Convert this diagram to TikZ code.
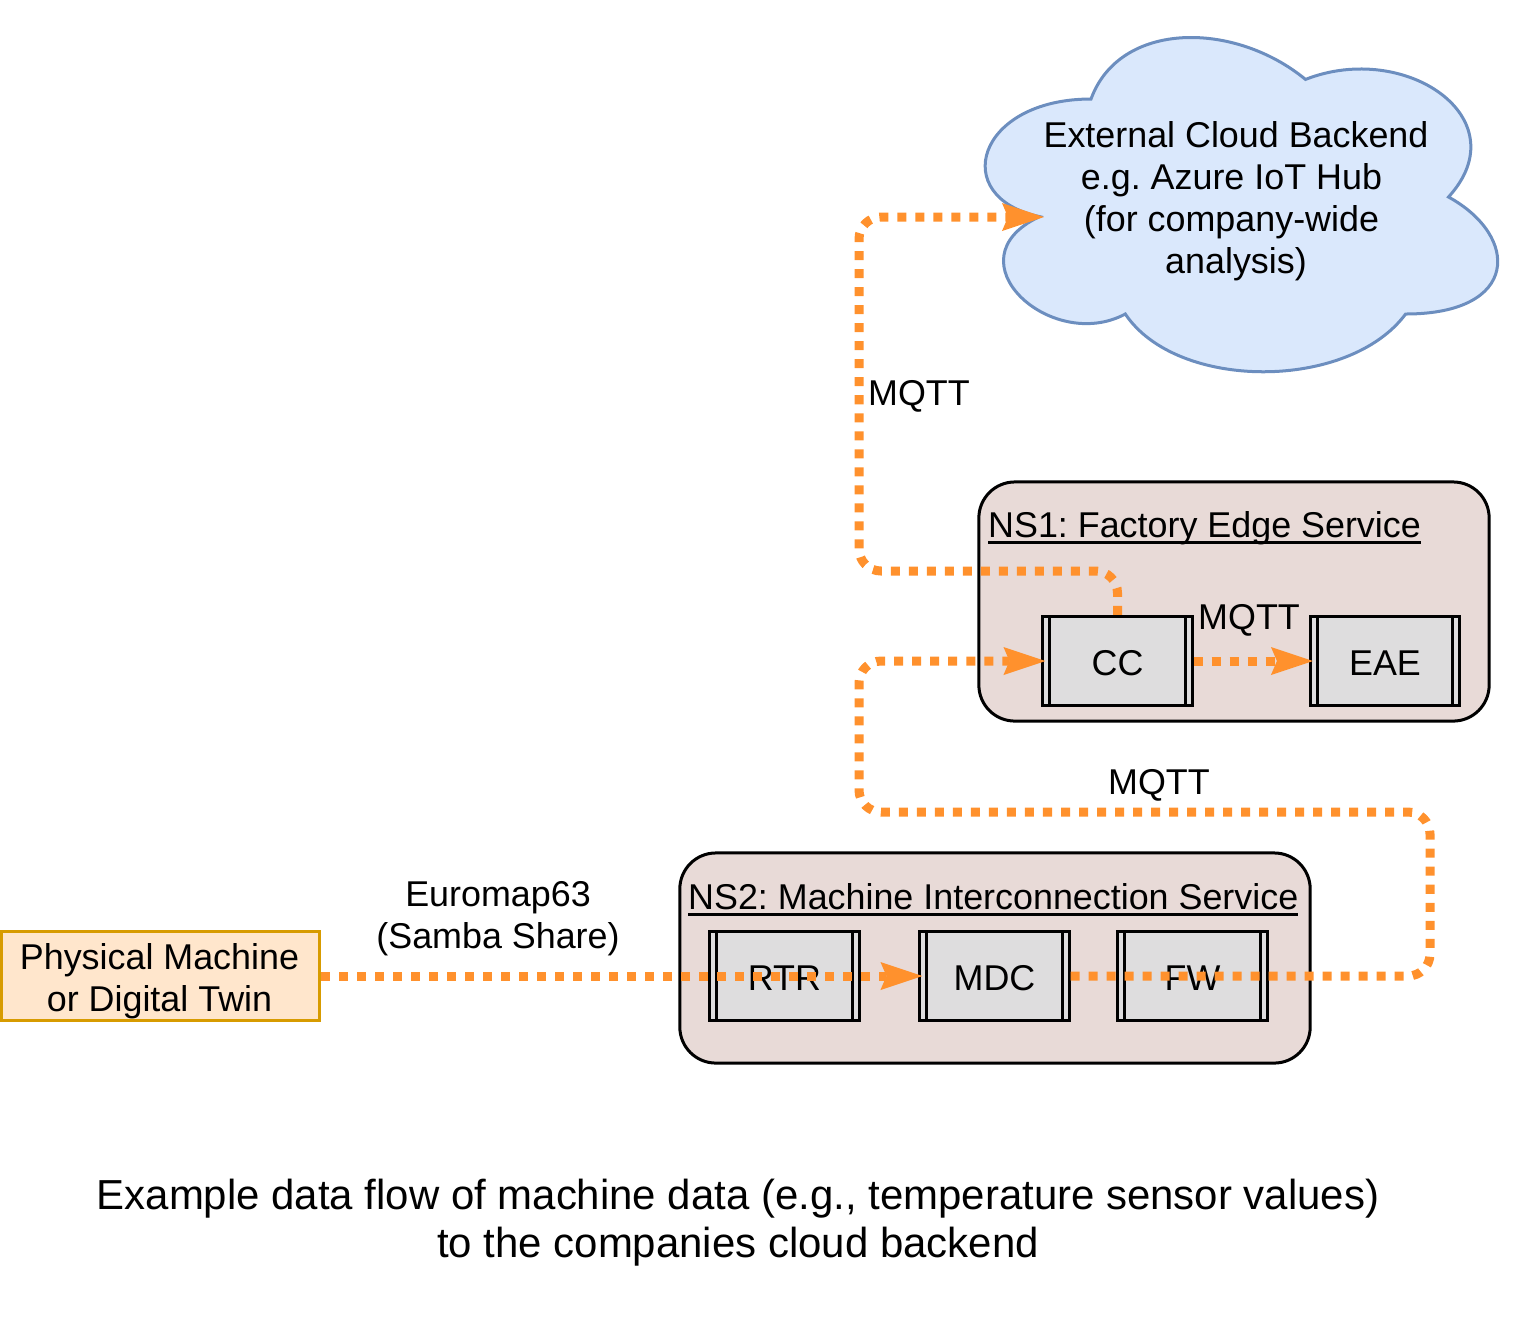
\documentclass[tikz,border=0pt]{standalone}
\usepackage{fontspec}
\setmainfont{Liberation Sans}
\usetikzlibrary{arrows.meta}
\definecolor{flowcolor}{HTML}{FF912D}
\definecolor{nsfill}{HTML}{E8DAD7}
\definecolor{svcfill}{HTML}{DEDDDE}
\definecolor{cloudline}{HTML}{6C8EBF}
\definecolor{cloudfill}{HTML}{DAE8FC}
\definecolor{physline}{HTML}{D79B00}
\definecolor{physfill}{HTML}{FFE6CC}
\newcommand{\nsul}[1]{\leavevmode\setbox0=\hbox{#1}\rlap{\rule[-0.065cm]{\wd0}{0.03cm}}\box0}
\tikzset{
  every node/.style={font=\fontsize{10.2pt}{11.95pt}\selectfont, align=center, inner sep=0pt},
  flow/.style={draw=flowcolor, line width=0.09cm, dash pattern=on 0.09cm off 0.09cm, rounded corners=0.22cm, shorten >=-0.04cm,
    -{Stealth[length=0.42cm,width=0.28cm,inset=0.06cm,line width=0pt]}},
  nsbox/.style={draw, line width=0.03cm, fill=nsfill, rounded corners=0.36cm},
  svcbox/.style={draw, line width=0.03cm, fill=svcfill, minimum width=1.49cm, minimum height=0.89cm, text height=0.29cm, text depth=0pt,
    path picture={
      \draw[line width=0.03cm] ([xshift=0.07cm]path picture bounding box.north west) -- ([xshift=0.07cm]path picture bounding box.south west);
      \draw[line width=0.03cm] ([xshift=-0.07cm]path picture bounding box.north east) -- ([xshift=-0.07cm]path picture bounding box.south east);
    }},
  title/.style={anchor=base west}
}
\begin{document}
\frenchspacing
\begin{tikzpicture}[x=0.01cm,y=-0.01cm]
\useasboundingbox (0,0) rectangle (1521,1323);
% cloud
\draw[draw=cloudline, line width=0.03cm, fill=cloudfill] (1091,99)
  .. controls (976.6,99) and (948,197) .. (1039.5,216.6)
  .. controls (948,259.7) and (1051,353.8) .. (1125.3,314)
  .. controls (1176.8,391) and (1348.4,391) .. (1405.6,314)
  .. controls (1520,314) and (1520,236.2) .. (1448.5,197)
  .. controls (1520,118.6) and (1405.6,40.2) .. (1305.5,79.4)
  .. controls (1234,20.6) and (1119.6,20.6) .. (1091,99) -- cycle;
\node (cloudtext) at (1236,201) {External Cloud Backend\\e.g. Azure IoT Hub\kern0.09cm\\(for company-wide\kern0.09cm\\analysis)};
\coordinate (cloudnotch) at (1040,217);
% namespaces
\node[nsbox, minimum width=5.10cm, minimum height=2.39cm] (ns1) at (1234,601.5) {};
\node[title] (ns1title) at (987.5,537) {\nsul{NS1: Factory Edge Service}};
\node[nsbox, minimum width=6.30cm, minimum height=2.10cm] (ns2) at (995,958) {};
\node[title] (ns2title) at (687.5,909) {\nsul{NS2: Machine Interconnection Service}};
% services
\node[svcbox] (cc) at (1117.5,661) {CC};
\node[svcbox] (eae) at (1385,661) {EAE};
\node[svcbox] (rtr) at (784.5,976) {RTR};
\node[svcbox] (mdc) at (994.5,976) {MDC};
\node[svcbox] (fw) at (1192.5,976) {FW};
\node[draw=physline, line width=0.03cm, fill=physfill, minimum width=3.18cm, minimum height=0.89cm,
  label={[xshift=-0.01cm,yshift=-0.05cm]center:Physical Machine\\or Digital Twin}] (machine) at (160.5,976) {};
% labels
\node (mqtt1) at (919,396.5) {MQTT};
\node (mqtt2) at (1249,620.5) {MQTT};
\node (mqtt3) at (1159,785.5) {MQTT};
\node (euromap) at (498,919) {Euromap63\\(Samba Share)};
\node[font=\fontsize{11.93pt}{13.6pt}\selectfont] (caption) at (738,1223) {Example data flow of machine data (e.g., temperature sensor values)\\to the companies cloud backend};
% data flow
\draw[flow] (machine.east) -- (mdc.west);
\draw[flow] (mdc.east) -- (1430,976) -- (1430,812) -- (859,812) |- (cc.west);
\draw[flow] (cc.north) |- (859,571) |- (cloudnotch);
\draw[flow] (cc.east) -- (eae.west);
\end{tikzpicture}
\end{document}
